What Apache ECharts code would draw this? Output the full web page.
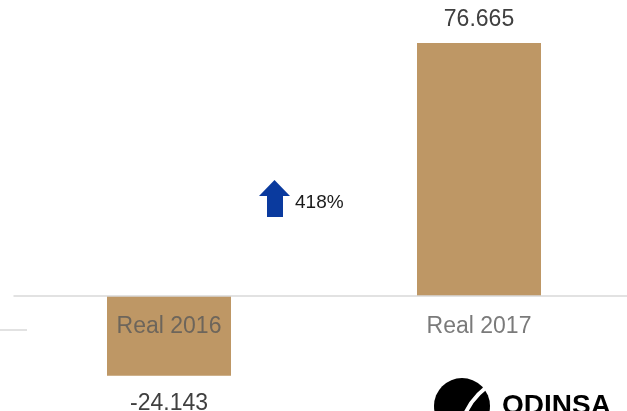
<!DOCTYPE html>
<html>
<head>
<meta charset="utf-8">
<script src="https://cdn.jsdelivr.net/npm/echarts@6/dist/echarts.min.js"></script>
<style>
  html, body { margin: 0; padding: 0; background: #fff; }
  #chart { width: 627px; height: 411px; }
</style>
</head>
<body>
<div id="chart"></div>
<script>
// Net result, actual years
const categories = ['Real 2016', 'Real 2017'];
const values = [-24.143, 76.665];
const valueLabels = ['-24.143', '76.665'];
const changeLabel = '418%';

const barColor = '#be9765';
const font = '"Liberation Sans", Arial, sans-serif';

const chart = echarts.init(document.getElementById('chart'));
chart.setOption({
  animation: false,
  backgroundColor: '#ffffff',
  grid: { left: 14, width: 620, top: 32, bottom: 16, containLabel: false, outerBoundsMode: 'none' },
  xAxis: {
    type: 'category',
    data: categories,
    z: 5,
    axisLine: { onZero: true, lineStyle: { color: '#d9d9d9', width: 1.5 } },
    axisTick: { show: false },
    axisLabel: { show: false }
  },
  yAxis: {
    type: 'value',
    min: -30,
    max: 80,
    show: false,
    splitLine: { show: false }
  },
  series: [{
    type: 'bar',
    barWidth: 124,
    itemStyle: { color: barColor },
    data: values.map((v, i) => ({
      value: v,
      label: {
        show: true,
        position: v >= 0 ? 'top' : 'bottom',
        distance: v >= 0 ? 12 : 16,
        formatter: valueLabels[i],
        color: '#404040',
        fontSize: 23,
        fontFamily: font
      }
    }))
  }, {
    // category names sit just under the zero line, over the bars
    type: 'scatter',
    symbolSize: 1,
    itemStyle: { color: 'rgba(0,0,0,0)' },
    z: 10,
    silent: true,
    data: categories.map(c => [c, 0]),
    label: {
      show: true,
      position: 'bottom',
      distance: 19,
      formatter: p => p.value[0],
      color: '#595959',
      fontSize: 23,
      fontFamily: font
    }
  }],
  graphic: [
    // short rule at the left edge
    { type: 'line', shape: { x1: 0, y1: 330, x2: 27, y2: 330 }, style: { stroke: '#d9d9d9', lineWidth: 1.5 } },
    // growth arrow
    {
      type: 'polygon',
      shape: { points: [[259, 196], [274.5, 180], [290, 196], [283, 196], [283, 217], [267, 217], [267, 196]] },
      style: { fill: '#0a3a9e' }
    },
    {
      type: 'text', left: 295, top: 193,
      style: { text: changeLabel, fill: '#1a1a1a', font: '19px ' + font }
    },
    // company logo
    { type: 'circle', shape: { cx: 462, cy: 406, r: 28 }, style: { fill: '#000' } },
    {
      type: 'bezierCurve',
      shape: { x1: 465, y1: 414, x2: 494, y2: 383, cpx1: 471, cpy1: 401, cpx2: 480, cpy2: 390 },
      style: { stroke: '#fff', lineWidth: 4, fill: null }
    },
    {
      type: 'text', left: 502, top: 392,
      style: { text: 'ODINSA', fill: '#000', font: 'bold 28px ' + font }
    }
  ]
});
</script>
</body>
</html>
